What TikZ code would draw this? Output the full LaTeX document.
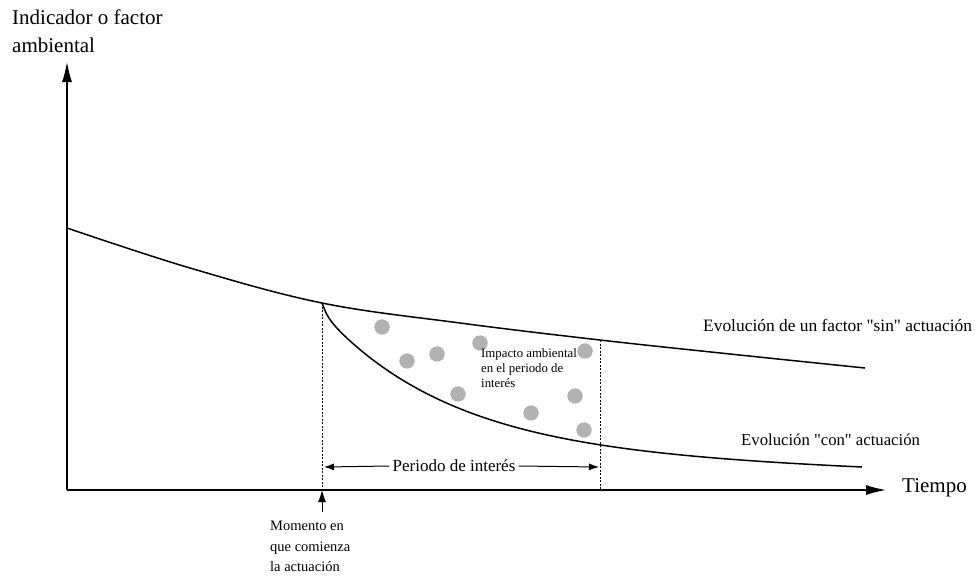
\documentclass[tikz,border=0pt]{standalone}
\usepackage{fontspec}
\setmainfont{Liberation Serif}
\usetikzlibrary{arrows.meta}
\begin{document}
\begin{tikzpicture}[x=1pt,y=-1pt,
  axis/.style={line width=1.3pt,-{Latex[length=20pt,width=10pt]}},
  curve/.style={line width=1.5pt},
  guide/.style={line width=0.9pt,dash pattern=on 2pt off 1.5pt},
  dot/.style={circle,fill=black!30,draw=black!45,densely dotted,line width=0.4pt,minimum size=15pt,inner sep=0pt},
  lbl/.style={font=\fontsize{16.7}{20}\selectfont,anchor=base west,inner sep=0pt},
  big/.style={font=\fontsize{21}{28}\selectfont,inner sep=0pt},
  small/.style={font=\fontsize{12.8}{15}\selectfont,align=left,inner sep=0pt},
  note/.style={font=\fontsize{14.5}{20.5}\selectfont,align=left,inner sep=0pt}]
\useasboundingbox (0,0) rectangle (979,587);
% axes
\coordinate (O) at (67,490);
\coordinate (ytop) at (67,62);
\coordinate (xend) at (886,490);
\draw[axis] (O) -- (ytop);
\draw[axis] (O) -- (xend);
\node[big,anchor=base west] (tiempo) at (902,492) {Tiempo};
\node[big,anchor=north west,align=left] (ylab) at (12,10) {Indicador o factor\\ambiental};
% key points
\coordinate (A) at (322,303);
\coordinate (B) at (600,340);
\coordinate (Abase) at (322,490);
\coordinate (Bbase) at (600,490);
% curves
\draw[curve] plot[smooth,tension=0.6] coordinates {(67,228) (190,268) (A) (460,323) (B) (730,354) (865,368)};
\draw[curve] plot[domain=0:540,samples=120,smooth] ({322+\x},{303+140*(1-exp(-\x/130))+10*(1-exp(-\x/5))+0.03*\x});
% dashed guides
\draw[guide] (A) -- (Abase);
\draw[guide] (B) -- (Bbase);
% periodo
\node[font=\fontsize{17}{20}\selectfont,inner sep=3pt] (per) at (454,466) {Periodo de interés};
\coordinate (pl) at (324,467);
\coordinate (pr) at (599,467);
\draw[line width=1pt,-{Latex[length=10pt,width=7pt]}] (per.west) -- (pl);
\draw[line width=1pt,-{Latex[length=10pt,width=7pt]}] (per.east) -- (pr);
% dots
\foreach \n/\p in {d1/{(382,327)},d2/{(407,361)},d3/{(437,354)},d4/{(480,343)},d5/{(458,394)},d6/{(585,351)},d7/{(575,396)},d8/{(531,413)},d9/{(584,430)}}
  \node[dot] (\n) at \p {};
\node[small,anchor=north west] (imp) at (481,348) {Impacto ambiental\\en el periodo de\\interés};
% labels
\node[lbl,font=\fontsize{17.4}{20}\selectfont] (sin) at (703,331) {Evolución de un factor \textquotedbl sin\textquotedbl\ actuación};
\node[lbl] (con) at (741,445) {Evolución \textquotedbl con\textquotedbl\ actuación};
% momento
\coordinate (mbot) at (322,512);
\draw[line width=1pt,-{Latex[length=12pt,width=8pt]}] (mbot) -- (Abase);
\node[note,anchor=north west] (mom) at (270,521) {Momento en\\que comienza\\la actuación};
\end{tikzpicture}
\end{document}
